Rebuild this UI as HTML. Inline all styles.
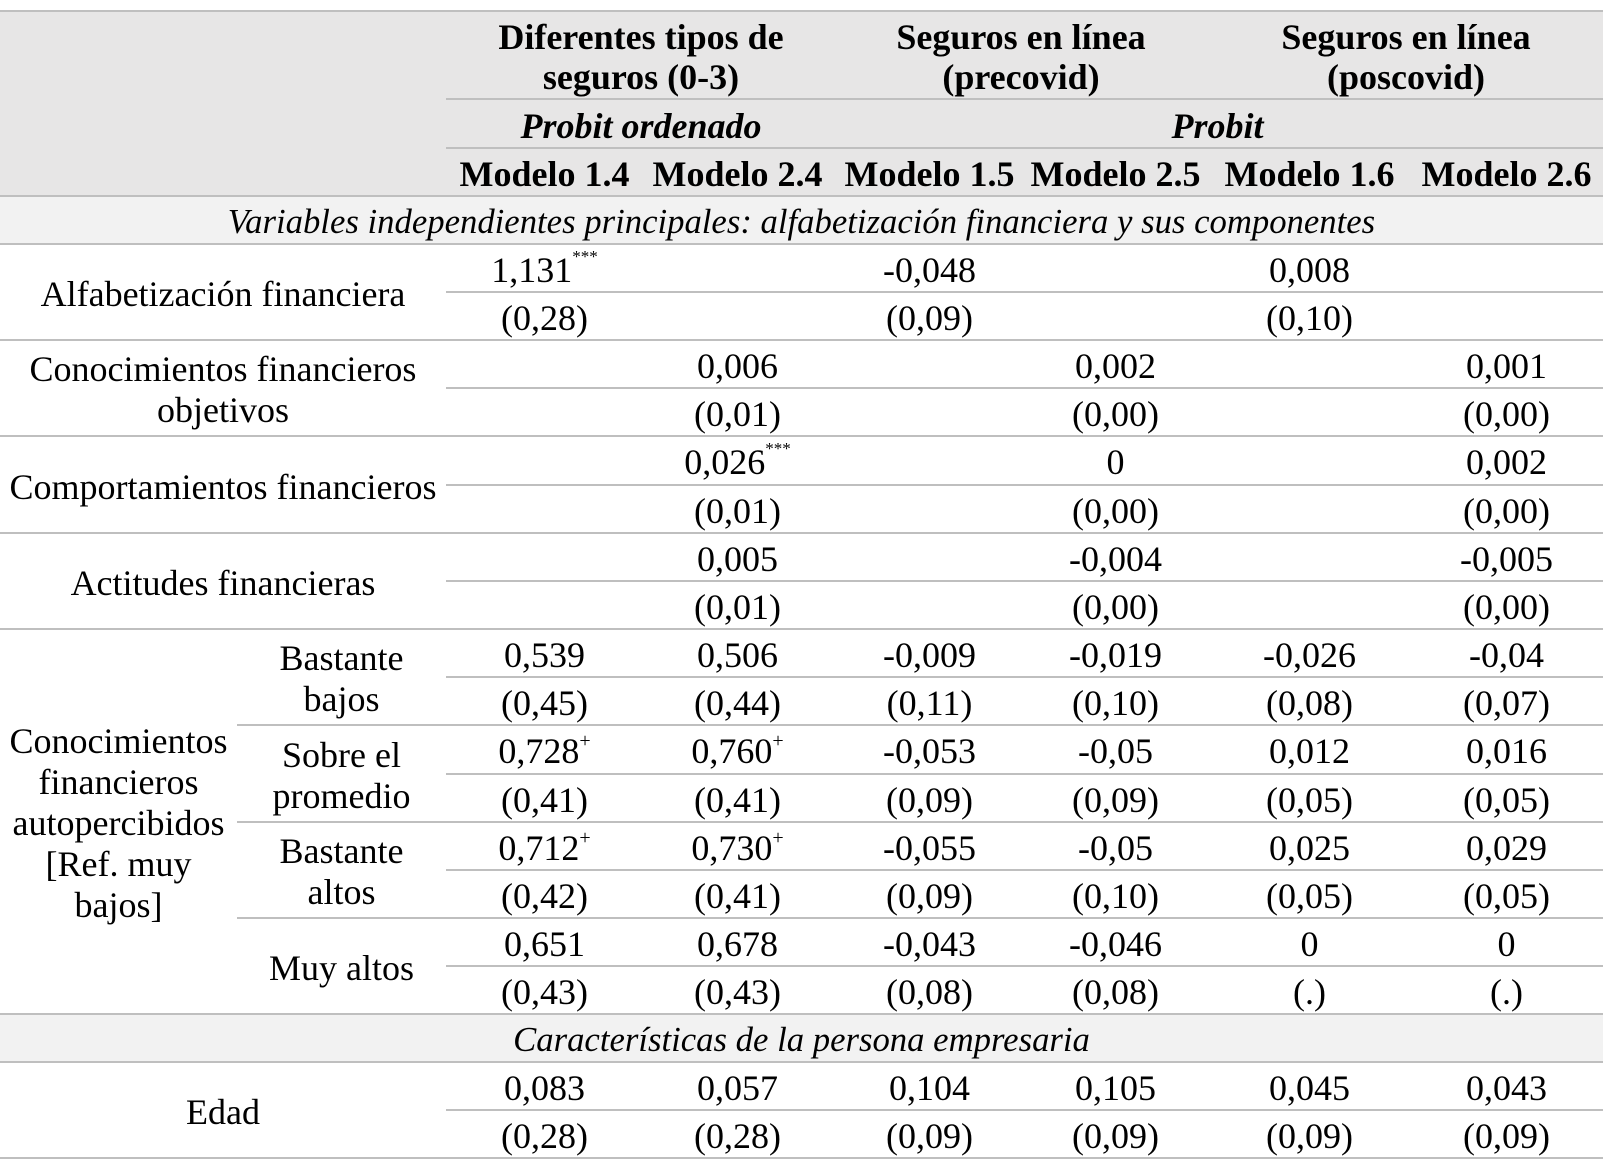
<!DOCTYPE html>
<html>
<head>
<meta charset="utf-8">
<style>
html,body{margin:0;padding:0;}
body{width:1606px;height:1164px;background:#fff;position:relative;overflow:hidden;font-family:"Liberation Serif","DejaVu Serif",serif;font-size:36px;color:#000;}
.t{position:absolute;display:flex;align-items:center;justify-content:center;text-align:center;line-height:40px;white-space:nowrap;box-sizing:border-box;padding-top:4px;}
.b{font-weight:bold;}
.i{font-style:italic;}
.h{position:absolute;height:2px;background:#bfbfbf;}
.bg{position:absolute;}
.s{font-size:17px;position:relative;top:-13px;line-height:0;}
.p{font-size:20px;position:relative;top:-10px;line-height:0;}
.c1,.c2,.c3,.c4,.c5,.c6{width:193px;height:48px;}
.c1{left:448px;}.c2{left:641px;}.c3{left:833px;}.c4{left:1019px;}.c5{left:1213px;}.c6{left:1410px;}
</style>
</head>
<body>
<!-- backgrounds -->
<div class="bg" style="left:0;top:12px;width:1603px;height:184px;background:#e7e6e6;"></div>
<div class="bg" style="left:0;top:196px;width:1603px;height:48px;background:#f2f2f2;"></div>
<div class="bg" style="left:0;top:1014px;width:1603px;height:48px;background:#f2f2f2;"></div>

<!-- header lines -->
<div class="h" style="left:0;top:10px;width:1603px;"></div>
<div class="h" style="left:446px;top:98px;width:1157px;"></div>
<div class="h" style="left:446px;top:147px;width:1157px;"></div>
<div class="h" style="left:0;top:195px;width:1603px;"></div>
<div class="h" style="left:0;top:243px;width:1603px;"></div>

<!-- data lines -->
<div class="h" style="left:446px;top:291px;width:1157px;"></div>
<div class="h" style="left:0;top:339px;width:1603px;"></div>
<div class="h" style="left:446px;top:387px;width:1157px;"></div>
<div class="h" style="left:0;top:435px;width:1603px;"></div>
<div class="h" style="left:446px;top:484px;width:1157px;"></div>
<div class="h" style="left:0;top:532px;width:1603px;"></div>
<div class="h" style="left:446px;top:580px;width:1157px;"></div>
<div class="h" style="left:0;top:628px;width:1603px;"></div>
<div class="h" style="left:446px;top:676px;width:1157px;"></div>
<div class="h" style="left:237px;top:724px;width:1366px;"></div>
<div class="h" style="left:446px;top:773px;width:1157px;"></div>
<div class="h" style="left:237px;top:821px;width:1366px;"></div>
<div class="h" style="left:446px;top:869px;width:1157px;"></div>
<div class="h" style="left:237px;top:917px;width:1366px;"></div>
<div class="h" style="left:446px;top:965px;width:1157px;"></div>
<div class="h" style="left:0;top:1013px;width:1603px;"></div>
<div class="h" style="left:0;top:1061px;width:1603px;"></div>
<div class="h" style="left:446px;top:1109px;width:1157px;"></div>
<div class="h" style="left:0;top:1157px;width:1603px;"></div>

<!-- header text -->
<div class="t b" style="left:448px;top:10px;width:386px;height:90px;">Diferentes tipos de<br>seguros (0-3)</div>
<div class="t b" style="left:828px;top:10px;width:386px;height:90px;">Seguros en línea<br>(precovid)</div>
<div class="t b" style="left:1213px;top:10px;width:386px;height:90px;">Seguros en línea<br>(poscovid)</div>
<div class="t b i" style="left:448px;top:99px;width:386px;height:49px;">Probit ordenado</div>
<div class="t b i" style="left:832px;top:99px;width:771px;height:49px;">Probit</div>
<div class="t b c1" style="top:148px;">Modelo 1.4</div>
<div class="t b c2" style="top:148px;">Modelo 2.4</div>
<div class="t b c3" style="top:148px;">Modelo 1.5</div>
<div class="t b c4" style="top:148px;">Modelo 2.5</div>
<div class="t b c5" style="top:148px;">Modelo 1.6</div>
<div class="t b c6" style="top:148px;">Modelo 2.6</div>

<div class="t i" style="left:0;top:196px;width:1603px;height:48px;font-size:34.7px;">Variables independientes principales: alfabetización financiera y sus componentes</div>
<div class="t i" style="left:0;top:1014px;width:1603px;height:48px;font-size:34.7px;">Características de la persona empresaria</div>

<!-- left labels -->
<div class="t" style="left:0;top:244px;width:446px;height:96px;">Alfabetización financiera</div>
<div class="t" style="left:0;top:340px;width:446px;height:96px;line-height:41px;">Conocimientos financieros<br>objetivos</div>
<div class="t" style="left:0;top:436px;width:446px;height:97px;">Comportamientos financieros</div>
<div class="t" style="left:0;top:533px;width:446px;height:96px;">Actitudes financieras</div>
<div class="t" style="left:0;top:629px;width:237px;height:385px;line-height:41px;">Conocimientos<br>financieros<br>autopercibidos<br>[Ref. muy<br>bajos]</div>
<div class="t" style="left:237px;top:629px;width:209px;height:96px;line-height:41px;">Bastante<br>bajos</div>
<div class="t" style="left:237px;top:725px;width:209px;height:97px;line-height:41px;">Sobre el<br>promedio</div>
<div class="t" style="left:237px;top:822px;width:209px;height:96px;line-height:41px;">Bastante<br>altos</div>
<div class="t" style="left:237px;top:918px;width:209px;height:96px;">Muy altos</div>
<div class="t" style="left:0;top:1062px;width:446px;height:96px;">Edad</div>

<!-- Alfabetización -->
<div class="t c1" style="top:244px;">1,131<span class="s">***</span></div>
<div class="t c3" style="top:244px;">-0,048</div>
<div class="t c5" style="top:244px;">0,008</div>
<div class="t c1" style="top:292px;">(0,28)</div>
<div class="t c3" style="top:292px;">(0,09)</div>
<div class="t c5" style="top:292px;">(0,10)</div>

<!-- Conocimientos objetivos -->
<div class="t c2" style="top:340px;">0,006</div>
<div class="t c4" style="top:340px;">0,002</div>
<div class="t c6" style="top:340px;">0,001</div>
<div class="t c2" style="top:388px;">(0,01)</div>
<div class="t c4" style="top:388px;">(0,00)</div>
<div class="t c6" style="top:388px;">(0,00)</div>

<!-- Comportamientos -->
<div class="t c2" style="top:436px;">0,026<span class="s">***</span></div>
<div class="t c4" style="top:436px;">0</div>
<div class="t c6" style="top:436px;">0,002</div>
<div class="t c2" style="top:485px;">(0,01)</div>
<div class="t c4" style="top:485px;">(0,00)</div>
<div class="t c6" style="top:485px;">(0,00)</div>

<!-- Actitudes -->
<div class="t c2" style="top:533px;">0,005</div>
<div class="t c4" style="top:533px;">-0,004</div>
<div class="t c6" style="top:533px;">-0,005</div>
<div class="t c2" style="top:581px;">(0,01)</div>
<div class="t c4" style="top:581px;">(0,00)</div>
<div class="t c6" style="top:581px;">(0,00)</div>

<!-- Bastante bajos -->
<div class="t c1" style="top:629px;">0,539</div>
<div class="t c2" style="top:629px;">0,506</div>
<div class="t c3" style="top:629px;">-0,009</div>
<div class="t c4" style="top:629px;">-0,019</div>
<div class="t c5" style="top:629px;">-0,026</div>
<div class="t c6" style="top:629px;">-0,04</div>
<div class="t c1" style="top:677px;">(0,45)</div>
<div class="t c2" style="top:677px;">(0,44)</div>
<div class="t c3" style="top:677px;">(0,11)</div>
<div class="t c4" style="top:677px;">(0,10)</div>
<div class="t c5" style="top:677px;">(0,08)</div>
<div class="t c6" style="top:677px;">(0,07)</div>

<!-- Sobre el promedio -->
<div class="t c1" style="top:725px;">0,728<span class="p">+</span></div>
<div class="t c2" style="top:725px;">0,760<span class="p">+</span></div>
<div class="t c3" style="top:725px;">-0,053</div>
<div class="t c4" style="top:725px;">-0,05</div>
<div class="t c5" style="top:725px;">0,012</div>
<div class="t c6" style="top:725px;">0,016</div>
<div class="t c1" style="top:774px;">(0,41)</div>
<div class="t c2" style="top:774px;">(0,41)</div>
<div class="t c3" style="top:774px;">(0,09)</div>
<div class="t c4" style="top:774px;">(0,09)</div>
<div class="t c5" style="top:774px;">(0,05)</div>
<div class="t c6" style="top:774px;">(0,05)</div>

<!-- Bastante altos -->
<div class="t c1" style="top:822px;">0,712<span class="p">+</span></div>
<div class="t c2" style="top:822px;">0,730<span class="p">+</span></div>
<div class="t c3" style="top:822px;">-0,055</div>
<div class="t c4" style="top:822px;">-0,05</div>
<div class="t c5" style="top:822px;">0,025</div>
<div class="t c6" style="top:822px;">0,029</div>
<div class="t c1" style="top:870px;">(0,42)</div>
<div class="t c2" style="top:870px;">(0,41)</div>
<div class="t c3" style="top:870px;">(0,09)</div>
<div class="t c4" style="top:870px;">(0,10)</div>
<div class="t c5" style="top:870px;">(0,05)</div>
<div class="t c6" style="top:870px;">(0,05)</div>

<!-- Muy altos -->
<div class="t c1" style="top:918px;">0,651</div>
<div class="t c2" style="top:918px;">0,678</div>
<div class="t c3" style="top:918px;">-0,043</div>
<div class="t c4" style="top:918px;">-0,046</div>
<div class="t c5" style="top:918px;">0</div>
<div class="t c6" style="top:918px;">0</div>
<div class="t c1" style="top:966px;">(0,43)</div>
<div class="t c2" style="top:966px;">(0,43)</div>
<div class="t c3" style="top:966px;">(0,08)</div>
<div class="t c4" style="top:966px;">(0,08)</div>
<div class="t c5" style="top:966px;">(.)</div>
<div class="t c6" style="top:966px;">(.)</div>

<!-- Edad -->
<div class="t c1" style="top:1062px;">0,083</div>
<div class="t c2" style="top:1062px;">0,057</div>
<div class="t c3" style="top:1062px;">0,104</div>
<div class="t c4" style="top:1062px;">0,105</div>
<div class="t c5" style="top:1062px;">0,045</div>
<div class="t c6" style="top:1062px;">0,043</div>
<div class="t c1" style="top:1110px;">(0,28)</div>
<div class="t c2" style="top:1110px;">(0,28)</div>
<div class="t c3" style="top:1110px;">(0,09)</div>
<div class="t c4" style="top:1110px;">(0,09)</div>
<div class="t c5" style="top:1110px;">(0,09)</div>
<div class="t c6" style="top:1110px;">(0,09)</div>
</body>
</html>
